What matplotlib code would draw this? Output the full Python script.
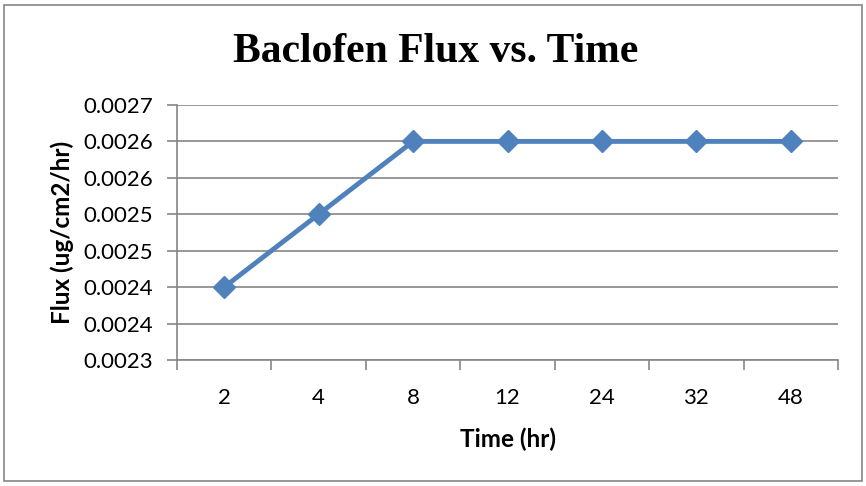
import matplotlib
matplotlib.use('Agg')
import matplotlib.pyplot as plt
from matplotlib.patches import Rectangle

# flux measurements per sampling time
times = ['2', '4', '8', '12', '24', '32', '48']
flux = [0.0024, 0.0025, 0.0026, 0.0026, 0.0026, 0.0026, 0.0026]
y_ticks = [0.0023, 0.00235, 0.0024, 0.00245, 0.0025, 0.00255, 0.0026, 0.00265]
y_tick_labels = ['0.0023', '0.0024', '0.0024', '0.0025', '0.0025', '0.0026', '0.0026', '0.0027']

fig = plt.figure(figsize=(8.66, 4.86), dpi=100)
fig.patches.append(Rectangle((0.005, 0.01), 0.99, 0.98, transform=fig.transFigure,
                             fill=False, edgecolor='#868686', linewidth=1.2))
ax = fig.add_axes([0.2044, 0.2593, 0.7633, 0.5247])

x = list(range(len(times)))
ax.plot(x, flux, color='#4F81BD', linewidth=3.5, marker='D', markersize=11,
        markerfacecolor='#4F81BD', markeredgecolor='#4F81BD', zorder=3)

ax.set_xlim(-0.5, len(times) - 0.5)
ax.set_ylim(y_ticks[0], y_ticks[-1])
ax.set_yticks(y_ticks)
ax.set_yticklabels(y_tick_labels)
# category boundaries get the tick marks, labels sit between them
ax.set_xticks([i - 0.5 for i in range(len(times) + 1)], minor=False)
ax.set_xticklabels([''] * (len(times) + 1))
ax.set_xticks(x, minor=True)
ax.set_xticklabels(times, minor=True)
ax.tick_params(axis='x', which='minor', length=0, pad=20)
ax.tick_params(axis='x', which='major', length=7, color='#868686', width=1.2)
ax.tick_params(axis='y', length=7, color='#868686', width=1.2, pad=10)

for lab in ax.get_xticklabels(minor=True) + ax.get_yticklabels():
    lab.set_fontfamily('Lato')
    lab.set_fontsize(16)

ax.grid(axis='y', color='#868686', linewidth=1.2)
ax.set_axisbelow(True)
for side in ['top', 'right']:
    ax.spines[side].set_visible(False)
for side in ['left', 'bottom']:
    ax.spines[side].set_color('#868686')
    ax.spines[side].set_linewidth(1.2)

ax.set_xlabel('Time (hr)', fontfamily='Lato', fontweight='bold', fontsize=17.5, labelpad=14)
ax.set_ylabel('Flux (ug/cm2/hr)', fontfamily='Lato', fontweight='bold', fontsize=17.5, labelpad=7)
fig.text(0.503, 0.893, 'Baclofen Flux vs. Time', ha='center', va='center',
         fontfamily='Liberation Serif', fontweight='bold', fontsize=30)

fig.savefig('out.png', dpi=100)
